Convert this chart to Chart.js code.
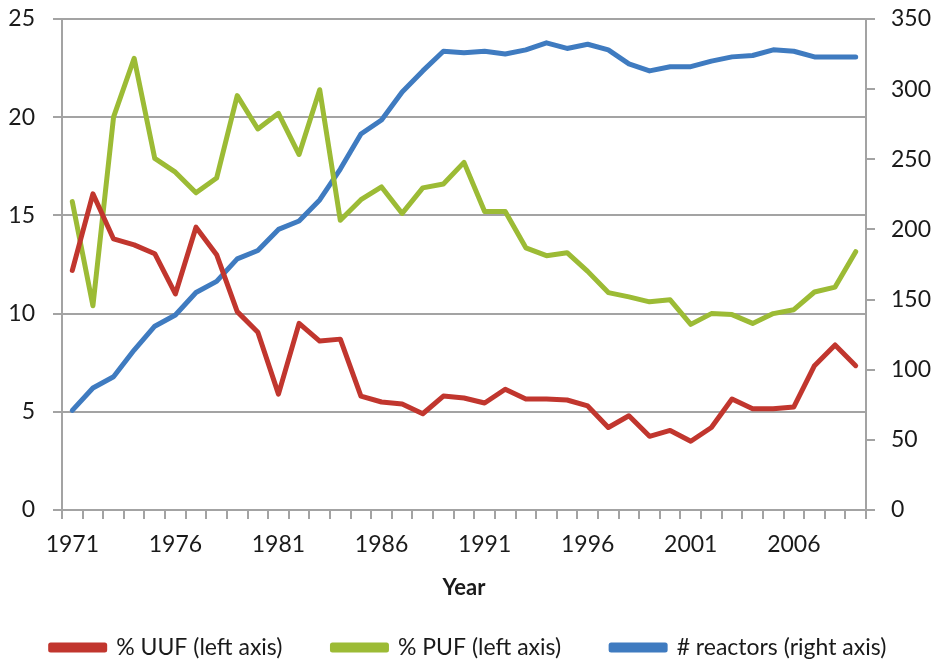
<!DOCTYPE html>
<html>
<head>
<meta charset="utf-8">
<script src="https://cdn.jsdelivr.net/npm/chart.js@4/dist/chart.umd.min.js"></script>
<style>
  body { margin: 0; background: #fff; }
  #wrap { width: 937px; height: 669px; }
</style>
</head>
<body>
<div id="wrap"><canvas id="chart"></canvas></div>
<script>
// years on the x axis
const years = []
for (let y = 1971; y <= 2009; y++) years.push(String(y))

// % UUF (left axis)
const uufPct = [12.2, 16.1, 13.8, 13.5, 13.05, 11.0, 14.4, 13.0, 10.1, 9.05,
  5.9, 9.5, 8.6, 8.7, 5.8, 5.5, 5.4, 4.9, 5.8, 5.7,
  5.45, 6.15, 5.65, 5.65, 5.6, 5.3, 4.2, 4.8, 3.75, 4.05,
  3.5, 4.2, 5.65, 5.15, 5.15, 5.25, 7.35, 8.4, 7.35]

// % PUF (left axis)
const pufPct = [15.7, 10.4, 20.0, 23.0, 17.9, 17.2, 16.15, 16.9, 21.1, 19.4,
  20.2, 18.1, 21.4, 14.75, 15.8, 16.45, 15.1, 16.4, 16.6, 17.7,
  15.2, 15.2, 13.35, 12.95, 13.1, 12.15, 11.07, 10.85, 10.6, 10.7,
  9.45, 10.0, 9.95, 9.5, 10.0, 10.2, 11.1, 11.35, 13.15]

// # reactors (right axis)
const reactors = [71, 87, 95, 114, 131, 139, 155, 163, 179, 185,
  200, 206, 221, 243, 268, 278, 298, 313, 327, 326,
  327, 325, 328, 333, 329, 332, 328, 318, 313, 316,
  316, 320, 323, 324, 328, 327, 323, 323, 323]

const labelEvery = 5
const gridGray = '#a3a3a3'

Chart.defaults.font.family = 'Lato, "Open Sans", sans-serif'
Chart.defaults.color = '#1a1a1a'

function lineSet(label, data, color, axis) {
  return {
    label: label,
    data: data,
    yAxisID: axis,
    borderColor: color,
    backgroundColor: color,
    borderWidth: 5,
    pointRadius: 0,
    tension: 0,
    borderJoinStyle: 'round',
    borderCapStyle: 'round',
    fill: false
  }
}

// fixed side widths, and no extra room above the top label
function fitSide(width) {
  return function(scale) {
    scale.width = width
    scale.paddingTop = 0
    scale.paddingBottom = 0
  }
}

const config = {
  type: 'line',
  data: {
    labels: years,
    datasets: [
      lineSet('% UUF (left axis)', uufPct, '#c1362e', 'yLeft'),
      lineSet('% PUF (left axis)', pufPct, '#9cbb35', 'yLeft'),
      lineSet('# reactors (right axis)', reactors, '#3f7bc0', 'yRight')
    ]
  },
  options: {
    responsive: true,
    maintainAspectRatio: false,
    animation: false,
    layout: { padding: { top: 19, left: 0, right: 0, bottom: 0 } },
    plugins: {
      tooltip: { enabled: false },
      legend: {
        position: 'bottom',
        labels: {
          boxWidth: 54,
          boxHeight: 5,
          padding: 50,
          font: { size: 23 },
          color: '#1a1a1a'
        }
      }
    },
    scales: {
      x: {
        offset: true,
        grid: {
          offset: true,
          drawOnChartArea: false,
          drawTicks: true,
          tickLength: 9,
          color: gridGray,
          lineWidth: 2
        },
        border: { color: gridGray, width: 2 },
        ticks: {
          autoSkip: false,
          maxRotation: 0,
          padding: 12,
          font: { size: 23 },
          callback: function(val, i) {
            return i % labelEvery === 0 ? years[i] : ''
          }
        },
        title: {
          display: true,
          text: 'Year',
          font: { size: 22, weight: 'bold' },
          padding: { top: 4, bottom: -15 }
        }
      },
      yLeft: {
        position: 'left',
        min: 0,
        max: 25,
        ticks: { stepSize: 5, padding: 18, font: { size: 23 } },
        grid: { color: gridGray, lineWidth: 2, tickLength: 9 },
        border: { color: gridGray, width: 2 },
        afterFit: fitSide(62)
      },
      yRight: {
        position: 'right',
        min: 0,
        max: 350,
        ticks: { stepSize: 50, padding: 16, font: { size: 23 } },
        grid: { drawOnChartArea: false, color: gridGray, lineWidth: 2, tickLength: 9 },
        border: { color: gridGray, width: 2 },
        afterFit: fitSide(71)
      }
    }
  }
}

new Chart(document.querySelector('#chart').getContext('2d'), config)
</script>
</body>
</html>
